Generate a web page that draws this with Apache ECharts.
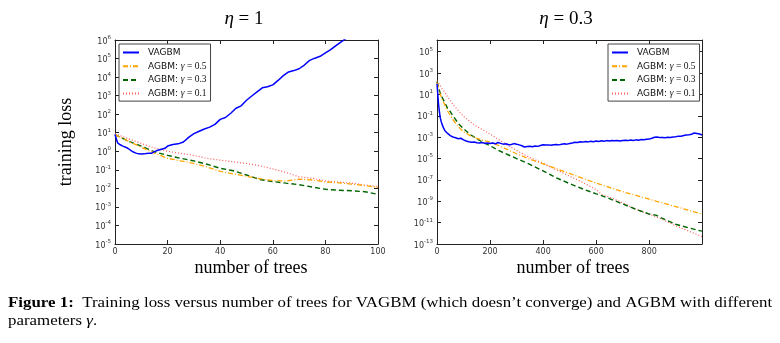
<!DOCTYPE html>
<html>
<head>
<meta charset="utf-8">
<script src="https://cdn.jsdelivr.net/npm/echarts@6/dist/echarts.min.js"></script>
<style>html,body{margin:0;padding:0;background:#fff}#c{width:780px;height:343px}</style>
</head>
<body>
<div id="c"></div>
<script>
// ---- data (y values are log10 of training loss) ----
const seriesNames = ['VAGBM', 'AGBM: γ=0.5', 'AGBM: γ=0.3', 'AGBM: γ=0.1'];

// eta = 1 panel
const leftVagbmX = [0,1,2,3,4,5,6,7,8,9,10,11,12,13,14,15,16,17,18,19,20,22,24,26,28,30,32,34,36,38,40,42,44,46,48,50,52,54,56,58,60,62,64,66,68,70,72,74,76,78,80,82,84,86,88,90];
const leftVagbmLog = [0.9,0.45,0.35,0.28,0.22,0.15,0.05,-0.04,-0.1,-0.14,-0.15,-0.14,-0.12,-0.1,-0.1,-0.02,0.04,0.08,0.12,0.16,0.28,0.36,0.4,0.5,0.75,0.95,1.08,1.2,1.3,1.45,1.72,1.82,2.05,2.32,2.45,2.75,2.98,3.2,3.42,3.48,3.58,3.82,4.08,4.28,4.35,4.45,4.65,4.9,5.02,5.12,5.3,5.48,5.7,5.9,6.1,6.3];
const leftAgbmX = [0,5,10,15,20,25,30,35,40,45,50,55,60,65,70,75,80,85,90,95,100];
const leftG05Log = [0.9,0.55,0.22,-0.1,-0.38,-0.52,-0.65,-0.85,-1.08,-1.22,-1.35,-1.48,-1.58,-1.6,-1.5,-1.55,-1.65,-1.7,-1.77,-1.85,-1.95];
const leftG03Log = [0.9,0.55,0.28,-0.03,-0.22,-0.38,-0.52,-0.7,-0.92,-1.05,-1.28,-1.52,-1.63,-1.72,-1.8,-1.93,-2.05,-2.1,-2.13,-2.18,-2.32];
const leftG01Log = [0.95,0.68,0.42,0.18,0.0,-0.12,-0.22,-0.38,-0.48,-0.57,-0.66,-0.78,-0.95,-1.14,-1.38,-1.45,-1.6,-1.66,-1.72,-1.82,-1.9];

// eta = 0.3 panel
const rightVagbmX = [0,3,6,9,12,16,20,25,30,40,50,60,70,80,90,100,110,120,130,140,150,160,170,180,190,200,210,220,230,240,250,260,270,280,290,300,310,320,330,340,350,360,370,380,390,400,410,420,430,440,450,460,470,480,490,500,510,520,530,540,550,560,570,580,590,600,610,620,630,640,650,660,670,680,690,700,710,720,730,740,750,760,770,780,790,800,810,820,830,840,850,860,870,880,890,900,910,920,930,940,950,960,970,980,990,999];
const rightVagbmLog = [2.0,1.0,0.05,-0.6,-1.15,-1.55,-1.85,-2.15,-2.4,-2.65,-2.85,-2.98,-3.05,-3.15,-3.1,-3.25,-3.35,-3.42,-3.48,-3.45,-3.52,-3.55,-3.5,-3.58,-3.55,-3.6,-3.55,-3.62,-3.5,-3.58,-3.65,-3.62,-3.7,-3.68,-3.6,-3.66,-3.72,-3.8,-3.92,-3.88,-3.85,-3.9,-3.82,-3.86,-3.78,-3.7,-3.74,-3.72,-3.76,-3.7,-3.68,-3.72,-3.66,-3.62,-3.65,-3.6,-3.55,-3.48,-3.5,-3.42,-3.46,-3.4,-3.44,-3.38,-3.42,-3.36,-3.4,-3.34,-3.38,-3.32,-3.36,-3.3,-3.34,-3.3,-3.35,-3.3,-3.28,-3.32,-3.27,-3.3,-3.25,-3.28,-3.22,-3.24,-3.2,-3.18,-3.1,-3.0,-2.98,-3.04,-3.02,-3.06,-3.0,-3.03,-2.98,-2.95,-2.9,-2.92,-2.85,-2.8,-2.78,-2.72,-2.6,-2.65,-2.7,-2.8];
const rightAgbmX = [0,10,20,30,40,50,60,80,100,125,150,175,200,225,250,300,350,400,450,500,550,600,625,650,700,750,800,825,850,900,950,999];
const rightG05Log = [2.1,1.2,0.5,0.0,-0.55,-0.95,-1.35,-2.0,-2.5,-2.85,-3.1,-3.3,-3.45,-3.7,-3.98,-4.55,-5.05,-5.5,-5.95,-6.4,-6.85,-7.3,-7.5,-7.7,-8.1,-8.45,-8.8,-8.98,-9.15,-9.5,-9.85,-10.2];
const rightG03Log = [2.2,1.3,0.7,0.2,-0.3,-0.6,-1.0,-1.7,-2.2,-2.75,-3.15,-3.5,-3.8,-4.15,-4.45,-5.0,-5.55,-6.15,-6.8,-7.35,-7.85,-8.3,-8.52,-8.75,-9.25,-9.75,-10.2,-10.3,-10.6,-11.15,-11.5,-11.8];
const rightG01Log = [2.3,1.9,1.5,1.2,0.75,0.45,0.05,-0.5,-1.05,-1.55,-2.0,-2.35,-2.7,-3.1,-3.5,-4.25,-4.9,-5.45,-6.05,-6.65,-7.25,-7.9,-8.45,-8.6,-9.15,-9.75,-10.2,-10.45,-10.7,-11.3,-11.8,-12.3];

// ---- chart ----
const zip = (xs, ys) => xs.map((x, i) => [x, ys[i]]);
const colors = ['#0000ff', '#ffa500', '#006400', '#ff5a5a'];
const lineTypes = ['solid', [5, 2, 1, 2], [5, 3], [1, 2]];
const widths = [1.5, 1.3, 1.4, 1.2];
const AX = '#222';
const tickLabel = {
  fontSize: 8, color: '#333', margin: 4,
  rich: {
    b: { fontSize: 8, color: '#333', fontFamily: 'DejaVu Sans', verticalAlign: 'bottom', lineHeight: 11 },
    s: { fontSize: 5.5, color: '#333', fontFamily: 'DejaVu Sans', verticalAlign: 'top', lineHeight: 11 }
  },
  formatter: v => Number.isInteger(v) ? '{b|10}{s|' + v + '}' : ''
};
function xAxes(grid, max, interval) {
  const base = {
    gridIndex: grid, type: 'value', min: 0, max: max, interval: interval,
    splitLine: { show: false },
    axisLine: { show: true, onZero: false, lineStyle: { color: AX, width: 1 } },
    axisTick: { show: true, inside: true, length: 4, lineStyle: { color: AX } }
  };
  return [
    Object.assign({}, base, { position: 'bottom', axisLabel: { fontSize: 8, color: '#333', margin: 4, fontFamily: 'DejaVu Sans', showMaxLabel: max === 100 } }),
    Object.assign({}, base, { position: 'top', axisLabel: { show: false } })
  ];
}
function yAxes(grid, min, max, interval) {
  const base = {
    gridIndex: grid, type: 'value', min: min, max: max, interval: interval,
    splitLine: { show: false },
    axisLine: { show: true, onZero: false, lineStyle: { color: AX, width: 1 } },
    axisTick: { show: true, inside: true, length: 4, lineStyle: { color: AX } }
  };
  return [
    Object.assign({}, base, { position: 'left', axisLabel: tickLabel }),
    Object.assign({}, base, { position: 'right', axisLabel: { show: false } })
  ];
}
function mkSeries(idx, xAxisIndex, yAxisIndex, data) {
  return {
    name: seriesNames[idx], type: 'line', xAxisIndex, yAxisIndex,
    data, symbol: 'none', showSymbol: false, clip: true, animation: false,
    lineStyle: { color: colors[idx], type: lineTypes[idx], width: widths[idx] },
    itemStyle: { color: colors[idx] }, z: 10 - idx
  };
}
function legendAt(left, top) {
  return {
    left, top, orient: 'vertical', data: seriesNames,
    backgroundColor: '#fff', borderColor: '#444', borderWidth: 1,
    padding: [3, 4, 2, 3], itemWidth: 16, itemHeight: 8, itemGap: 2.7,
    selectedMode: false,
    itemStyle: { opacity: 0 },
    textStyle: {
      fontSize: 9, color: '#111', fontFamily: 'DejaVu Sans', padding: [0, 0, 0, 4], lineHeight: 11,
      rich: {
        a: { fontSize: 9, fontFamily: 'DejaVu Sans', color: '#111', lineHeight: 11 },
        g: { fontSize: 9.5, fontFamily: 'Liberation Serif', fontStyle: 'italic', color: '#111', lineHeight: 11 },
        m: { fontSize: 9.5, fontFamily: 'Liberation Serif', color: '#111', lineHeight: 11 }
      }
    },
    formatter: n => {
      if (n.indexOf('γ') < 0) return '{a|' + n + '}';
      const val = n.split('=')[1];
      return '{a|AGBM: }{g|γ}{m| = ' + val + '}';
    }
  };
}
const serifRich = {
  i: { fontFamily: 'Liberation Serif', fontStyle: 'italic', fontSize: 19, fill: '#000' },
  r: { fontFamily: 'Liberation Serif', fontSize: 19, fill: '#000' }
};
const labRich = {
  r: { fontFamily: 'Liberation Serif', fontSize: 18, fill: '#000' }
};
const capRich = {
  b: { fontFamily: 'Liberation Serif', fontWeight: 'bold', fontSize: 15, fill: '#000' },
  r: { fontFamily: 'Liberation Serif', fontSize: 15, fill: '#000' },
  i: { fontFamily: 'Liberation Serif', fontStyle: 'italic', fontSize: 15, fill: '#000' }
};
function txt(x, y, text, rich, extra, align) {
  return Object.assign({
    type: 'text', x, y, silent: true,
    style: { text, rich, align: align || 'center', verticalAlign: 'middle' }
  }, extra || {});
}

const chart = echarts.init(document.getElementById('c'), null, { renderer: 'canvas' });
chart.setOption({
  animation: false,
  backgroundColor: '#fff',
  grid: [
    { left: 115, top: 40, width: 263, height: 204 },
    { left: 437, top: 40, width: 265, height: 204 }
  ],
  xAxis: [...xAxes(0, 100, 20), ...xAxes(1, 999, 200)],
  yAxis: [...yAxes(0, -5, 6, 1), ...yAxes(1, -13, 6.1, 2)],
  legend: [legendAt(119, 44), legendAt(608, 44)],
  series: [
    mkSeries(0, 0, 0, zip(leftVagbmX, leftVagbmLog)),
    mkSeries(1, 0, 0, zip(leftAgbmX, leftG05Log)),
    mkSeries(2, 0, 0, zip(leftAgbmX, leftG03Log)),
    mkSeries(3, 0, 0, zip(leftAgbmX, leftG01Log)),
    mkSeries(0, 2, 2, zip(rightVagbmX, rightVagbmLog)),
    mkSeries(1, 2, 2, zip(rightAgbmX, rightG05Log)),
    mkSeries(2, 2, 2, zip(rightAgbmX, rightG03Log)),
    mkSeries(3, 2, 2, zip(rightAgbmX, rightG01Log))
  ],
  graphic: [
    txt(244, 19, '{i|η}{r| = 1}', serifRich),
    txt(566, 19, '{i|η}{r| = 0.3}', serifRich),
    txt(251, 268, '{r|number of trees}', labRich),
    txt(573, 268, '{r|number of trees}', labRich),
    txt(66, 142, '{r|training loss}', labRich, { rotation: Math.PI / 2 }),
    txt(8, 303, '{b|Figure 1:}{r|  Training loss versus number of trees for VAGBM (which doesn’t converge) and AGBM with different}', capRich, { scaleX: 1.125 }, 'left'),
    txt(8, 321, '{r|parameters }{i|γ}{r|.}', capRich, { scaleX: 1.125 }, 'left')
  ]
});
</script>
</body>
</html>
